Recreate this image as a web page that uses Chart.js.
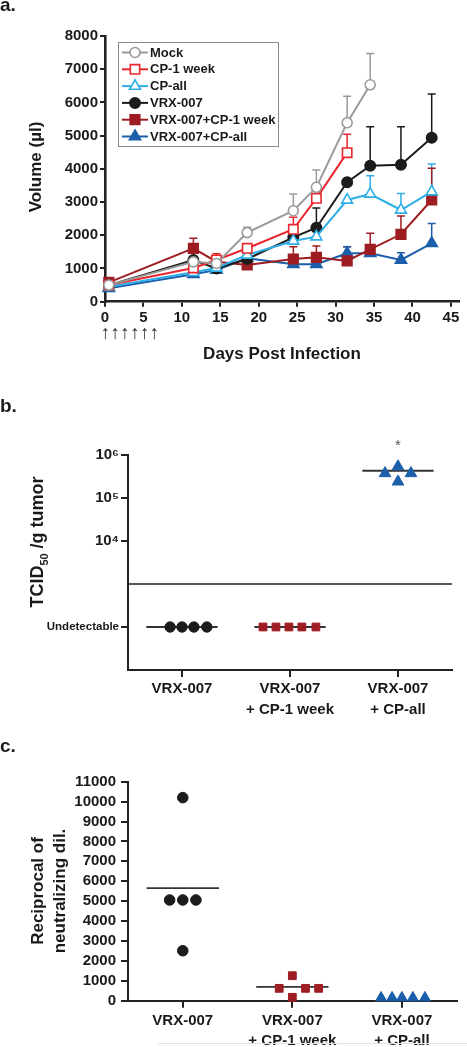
<!DOCTYPE html>
<html><head><meta charset="utf-8">
<script src="https://cdn.jsdelivr.net/npm/chart.js@4.4.1/dist/chart.umd.min.js"></script>
<style>
html,body{margin:0;padding:0;background:#fff;}
body{width:467px;height:1047px;position:relative;overflow:hidden;}
canvas{position:absolute;left:0;}
#edge{position:absolute;left:158px;top:1043px;width:309px;height:1px;background:#e2e2e2;}
</style></head><body>
<canvas id="ca" width="467" height="370" style="top:0px"></canvas>
<canvas id="cb" width="467" height="340" style="top:380px"></canvas>
<canvas id="cc" width="467" height="327" style="top:720px"></canvas>
<div id="edge"></div>
<script>
// ================= Panel a data =================
const days = [0.5, 11.5, 14.5, 18.5, 24.5, 27.5, 31.5, 34.5, 38.5, 42.5];
const seriesNames = ['Mock', 'CP-1 week', 'CP-all', 'VRX-007', 'VRX-007+CP-1 week', 'VRX-007+CP-all'];
const mockVol     = [500, 1200, 1150, 2080, 2740, 3445, 5390, 6530, null, null];
const mockErr     = [0, 0, 0, 160, 500, 520, 795, 945, null, null];
const cp1Vol      = [500, 1015, 1256, 1608, 2180, 3113, 4487, null, null, null];
const cp1Err      = [0, 0, 190, 0, 360, 0, 555, null, null, null];
const cpAllVol    = [450, 885, 1015, 1406, 1828, 1957, 3062, 3243, 2761, 3312];
const cpAllErr    = [0, 0, 0, 0, 0, 0, 0, 550, 500, 835];
const vrxVol      = [500, 1256, 1000, 1286, 1939, 2228, 3595, 4095, 4125, 4938];
const vrxErr      = [0, 0, 0, 0, 0, 590, 0, 1175, 1145, 1316];
const vrxCp1Vol   = [584, 1608, 1204, 1105, 1286, 1337, 1226, 1578, 2030, 3062];
const vrxCp1Err   = [0, 300, 0, 0, 370, 340, 430, 480, 550, 955];
const vrxCpAllVol = [404, 825, 955, 1307, 1126, 1126, 1457, 1457, 1256, 1758];
const vrxCpAllErr = [0, 0, 0, 0, 0, 0, 200, 0, 220, 600];
const xTicksA = [0, 5, 10, 15, 20, 25, 30, 35, 40, 45];
const yTicksA = [0, 1000, 2000, 3000, 4000, 5000, 6000, 7000, 8000];

// ================= Panel b data =================
const groups = ['VRX-007', ['VRX-007', '+ CP-1 week'], ['VRX-007', '+ CP-all']];
const UNDET = 100;            // plotting position of "Undetectable"
const DETECT_LIMIT = 1000;    // horizontal limit line
const bVrxX = [-0.11, 0, 0.11, 0.23];
const bVrxY = [UNDET, UNDET, UNDET, UNDET];
const bCp1X = [0.75, 0.87, 0.99, 1.11, 1.24];
const bCp1Y = [UNDET, UNDET, UNDET, UNDET, UNDET];
const bCpAllX = [1.88, 2.0, 2.12, 2.0];
const bCpAllY = [375000, 540000, 375000, 240000];
const bMedian = [UNDET, UNDET, 430000];
const bTicks = [UNDET, 1e4, 1e5, 1e6];

// ================= Panel c data =================
const cVrxX = [0, -0.12, 0, 0.12, 0];
const cVrxY = [10200, 5060, 5060, 5060, 2510];
const cCp1X = [0.88, 1, 1, 1.12, 1.24];
const cCp1Y = [620, 1256, 170, 620, 620];
const cCpAllX = [1.81, 1.91, 2.0, 2.1, 2.21];
const cCpAllY = [150, 150, 150, 150, 150];
const cMean = [5650, 690, null];
const yTicksC = [0, 1000, 2000, 3000, 4000, 5000, 6000, 7000, 8000, 9000, 10000, 11000];

// ================= common =================
const F = '"Liberation Sans", Arial, Helvetica, sans-serif';
const INK = '#1a1a1a';
const col = {
  mock: '#9a9a9a', cp1: '#e8262d', cpAll: '#2eaee6',
  vrx: '#1c1c1c', vrxCp1: '#9e1d22', vrxCpAll: '#1b5fab'
};
const plain = v => String(v);
function pts(xs, ys) { return xs.map((x, i) => ys[i] == null ? null : ({x: x, y: ys[i]})).filter(p => p); }
function axisStyle(tickLen, bw) {
  return {
    grid: {display: true, drawOnChartArea: false, drawTicks: true, tickLength: tickLen, color: '#222', lineWidth: 2},
    border: {display: true, color: '#222', width: bw}
  };
}
function rotText(ctx, parts, cx, cy) {
  ctx.save();
  ctx.translate(cx, cy);
  ctx.rotate(-Math.PI / 2);
  ctx.textBaseline = 'alphabetic';
  ctx.textAlign = 'left';
  let W = 0;
  parts.forEach(p => { ctx.font = 'bold ' + p.size + 'px ' + F; p.w = ctx.measureText(p.t).width; W += p.w; });
  let x = -W / 2;
  parts.forEach(p => { ctx.font = 'bold ' + p.size + 'px ' + F; ctx.fillStyle = INK; ctx.fillText(p.t, x, p.dy || 0); x += p.w; });
  ctx.restore();
}

// ================= Panel a =================
function lineDs(label, data, err, color, style, radius, filled) {
  return {
    label: label, data: pts(days, data), errUp: err, rawY: data,
    borderColor: color, backgroundColor: filled ? color : '#ffffff',
    pointBackgroundColor: filled ? color : '#ffffff', pointBorderColor: color,
    pointStyle: style, pointRadius: radius, pointBorderWidth: 1.6,
    borderWidth: 2, tension: 0, clip: false, fill: false
  };
}
const errPlugin = {
  id: 'errbars',
  beforeDatasetsDraw(chart) {
    const ctx = chart.ctx, xs = chart.scales.x, ys = chart.scales.y;
    chart.data.datasets.forEach(ds => {
      if (!ds.errUp) return;
      ctx.save();
      ctx.strokeStyle = ds.borderColor; ctx.lineWidth = 1.5;
      ds.errUp.forEach((e, j) => {
        const v = ds.rawY[j];
        if (v == null || !e) return;
        const px = xs.getPixelForValue(days[j]);
        const p0 = ys.getPixelForValue(v), p1 = ys.getPixelForValue(v + e);
        ctx.beginPath();
        ctx.moveTo(px, p0); ctx.lineTo(px, p1);
        ctx.moveTo(px - 4, p1); ctx.lineTo(px + 4, p1);
        ctx.stroke();
      });
      ctx.restore();
    });
  }
};
const annotA = {
  id: 'annotA',
  afterDraw(chart) {
    const ctx = chart.ctx;
    ctx.save();
    ctx.fillStyle = INK;
    ctx.font = 'bold 19px ' + F; ctx.textAlign = 'left'; ctx.textBaseline = 'alphabetic';
    ctx.fillText('a.', 0, 11);
    ctx.font = 'bold 17px ' + F; ctx.textAlign = 'center';
    ctx.fillText('Days Post Infection', 282, 359);
    ctx.font = '19px ' + F; ctx.fillStyle = '#333'; ctx.textBaseline = 'middle';
    for (let i = 0; i < 6; i++) ctx.fillText('\u2191', 105.5 + i * 9.8, 334);
    ctx.restore();
    rotText(ctx, [{t: 'Volume (\u00b5l)', size: 17}], 40.5, 167);
    ctx.save();
    ctx.strokeStyle = '#8a8a8a'; ctx.lineWidth = 1;
    ctx.strokeRect(118.5, 42.5, 160, 104);
    chart.data.datasets.forEach((ds, i) => {
      const y = 52.5 + i * 16.8;
      ctx.strokeStyle = ds.borderColor; ctx.lineWidth = 2;
      ctx.beginPath(); ctx.moveTo(122, y); ctx.lineTo(148, y); ctx.stroke();
      ctx.fillStyle = ds.pointBackgroundColor; ctx.strokeStyle = ds.pointBorderColor; ctx.lineWidth = 1.6;
      Chart.helpers.drawPoint(ctx, {pointStyle: ds.pointStyle, radius: ds.pointRadius, borderWidth: 1.6, rotation: 0}, 135, y);
      ctx.fillStyle = INK; ctx.font = 'bold 13px ' + F; ctx.textAlign = 'left'; ctx.textBaseline = 'middle';
      ctx.fillText(ds.label, 150, y + 0.5);
    });
    ctx.restore();
  }
};
const dsA = [
  lineDs(seriesNames[0], mockVol, mockErr, col.mock, 'circle', 5, false),
  lineDs(seriesNames[1], cp1Vol, cp1Err, col.cp1, 'rect', 6.6, false),
  lineDs(seriesNames[2], cpAllVol, cpAllErr, col.cpAll, 'triangle', 6.3, false),
  lineDs(seriesNames[3], vrxVol, vrxErr, col.vrx, 'circle', 5.2, true),
  lineDs(seriesNames[4], vrxCp1Vol, vrxCp1Err, col.vrxCp1, 'rect', 6.8, true),
  lineDs(seriesNames[5], vrxCpAllVol, vrxCpAllErr, col.vrxCpAll, 'triangle', 6.5, true)
];

new Chart(document.getElementById('ca'), {
  type: 'line',
  data: {datasets: dsA},
  options: {
    responsive: false, animation: false, devicePixelRatio: 1,
    layout: {padding: {left: 0, top: 36, right: 1.3, bottom: 370 - 301.7 - 40}},
    plugins: {legend: {display: false}, tooltip: {enabled: false}},
    scales: {
      x: Object.assign({
        type: 'linear', min: 0, max: 46,
        afterBuildTicks: s => { s.ticks = xTicksA.map(v => ({value: v})); },
        afterFit: s => { s.height = 40; s.paddingLeft = 0; s.paddingRight = 0; },
        ticks: {color: INK, font: {family: F, size: 15, weight: 'bold'}, padding: 2, maxRotation: 0, autoSkip: false, callback: plain}
      }, axisStyle(5, 2.6)),
      y: Object.assign({
        type: 'linear', min: 0, max: 8000,
        afterBuildTicks: s => { s.ticks = yTicksA.map(v => ({value: v})); },
        afterFit: s => { s.width = 105; s.paddingTop = 0; s.paddingBottom = 0; },
        ticks: {color: INK, font: {family: F, size: 15, weight: 'bold'}, padding: 2, autoSkip: false, callback: plain}
      }, axisStyle(5, 2.6))
    }
  },
  plugins: [errPlugin, annotA]
});

// ================= Panel b =================
function catScale(tickPad, extra) {
  return Object.assign({
    type: 'linear', min: -0.5, max: 2.5,
    afterBuildTicks: s => { s.ticks = [0, 1, 2].map(v => ({value: v})); },
    ticks: {
      color: INK, font: {family: F, size: 15, weight: 'bold', lineHeight: 1.35},
      padding: tickPad, maxRotation: 0, autoSkip: false,
      callback: v => groups[v]
    }
  }, axisStyle(7, 2), extra);
}
function medianDs(centers, vals, color) {
  return centers.map((c, i) => vals[i] == null ? null : ({
    type: 'line', data: [{x: c - 0.33, y: vals[i]}, {x: c + 0.33, y: vals[i]}],
    borderColor: color, borderWidth: 1.8, pointRadius: 0, clip: false
  })).filter(d => d);
}
const sup = {3: '\u00b3', 4: '\u2074', 5: '\u2075', 6: '\u2076'};
const annotB = {
  id: 'annotB',
  afterDraw(chart) {
    const ctx = chart.ctx;
    ctx.save();
    ctx.fillStyle = INK;
    ctx.font = 'bold 19px ' + F; ctx.textAlign = 'left'; ctx.textBaseline = 'alphabetic';
    ctx.fillText('b.', 0, 32);
    ctx.fillStyle = '#555'; ctx.font = '15px ' + F; ctx.textAlign = 'center';
    ctx.fillText('*', chart.scales.x.getPixelForValue(2), chart.scales.y.top - 5);
    ctx.restore();
    rotText(ctx, [{t: 'TCID', size: 18}, {t: '50', size: 11, dy: 5}, {t: ' /g tumor', size: 18}], 43, 162);
  }
};
new Chart(document.getElementById('cb'), {
  type: 'scatter',
  data: {datasets: [
    {data: pts(bVrxX, bVrxY), pointStyle: 'circle', pointRadius: 5.2, backgroundColor: col.vrx, borderColor: col.vrx, clip: false},
    {data: pts(bCp1X, bCp1Y), pointStyle: 'rect', pointRadius: 5.5, backgroundColor: col.vrxCp1, borderColor: col.vrxCp1, clip: false},
    {data: pts(bCpAllX, bCpAllY), pointStyle: 'triangle', pointRadius: 6.7, backgroundColor: col.vrxCpAll, borderColor: col.vrxCpAll, clip: false},
    ...medianDs([0, 1, 2], bMedian, '#333'),
    {type: 'line', data: [{x: -0.5, y: DETECT_LIMIT}, {x: 2.5, y: DETECT_LIMIT}], borderColor: '#222', borderWidth: 1.3, pointRadius: 0}
  ]},
  options: {
    responsive: false, animation: false, devicePixelRatio: 1,
    layout: {padding: {left: 0, top: 75, right: 15, bottom: 0}},
    plugins: {legend: {display: false}, tooltip: {enabled: false}},
    scales: {
      x: catScale(2, {afterFit: s => { s.height = 50; s.paddingLeft = 0; s.paddingRight = 0; }}),
      y: Object.assign({
        type: 'logarithmic', min: 10, max: 1e6,
        afterBuildTicks: s => { s.ticks = bTicks.map(v => ({value: v})); },
        afterFit: s => { s.width = 128; s.paddingTop = 0; s.paddingBottom = 0; },
        ticks: {
          color: INK, padding: 2, autoSkip: false,
          font: c => (c.tick && c.tick.value === UNDET) ? {family: F, size: 11.5, weight: 'bold'} : {family: F, size: 15, weight: 'bold'},
          callback: v => v === UNDET ? 'Undetectable' : '10' + sup[Math.round(Math.log10(v))]
        }
      }, axisStyle(7, 2))
    }
  },
  plugins: [annotB]
});

// ================= Panel c =================
const annotC = {
  id: 'annotC',
  afterDraw(chart) {
    const ctx = chart.ctx;
    ctx.save();
    ctx.fillStyle = INK;
    ctx.font = 'bold 19px ' + F; ctx.textAlign = 'left'; ctx.textBaseline = 'alphabetic';
    ctx.fillText('c.', 0, 32);
    ctx.restore();
    rotText(ctx, [{t: 'Reciprocal of', size: 17}], 43, 171);
    rotText(ctx, [{t: 'neutralizing dil.', size: 17}], 64.5, 171);
  }
};
new Chart(document.getElementById('cc'), {
  type: 'scatter',
  data: {datasets: [
    {data: pts(cVrxX, cVrxY), pointStyle: 'circle', pointRadius: 5.3, backgroundColor: col.vrx, borderColor: col.vrx, clip: false},
    {data: pts(cCp1X, cCp1Y), pointStyle: 'rect', pointRadius: 5.5, backgroundColor: col.vrxCp1, borderColor: col.vrxCp1, clip: false},
    {data: pts(cCpAllX, cCpAllY), pointStyle: 'triangle', pointRadius: 6.3, backgroundColor: col.vrxCpAll, borderColor: col.vrxCpAll, clip: false},
    ...medianDs([0, 1, 2], cMean, '#333')
  ]},
  options: {
    responsive: false, animation: false, devicePixelRatio: 1,
    layout: {padding: {left: 0, top: 61.7, right: 10.3, bottom: 0}},
    plugins: {legend: {display: false}, tooltip: {enabled: false}},
    scales: {
      x: catScale(3, {afterFit: s => { s.height = 46.3; s.paddingLeft = 0; s.paddingRight = 0; }}),
      y: Object.assign({
        type: 'linear', min: 0, max: 11000,
        afterBuildTicks: s => { s.ticks = yTicksC.map(v => ({value: v})); },
        afterFit: s => { s.width = 128; s.paddingTop = 0; s.paddingBottom = 0; },
        ticks: {color: INK, padding: 5, autoSkip: false, font: {family: F, size: 15, weight: 'bold'}, callback: plain}
      }, axisStyle(7, 2))
    }
  },
  plugins: [annotC]
});
</script>
</body></html>
